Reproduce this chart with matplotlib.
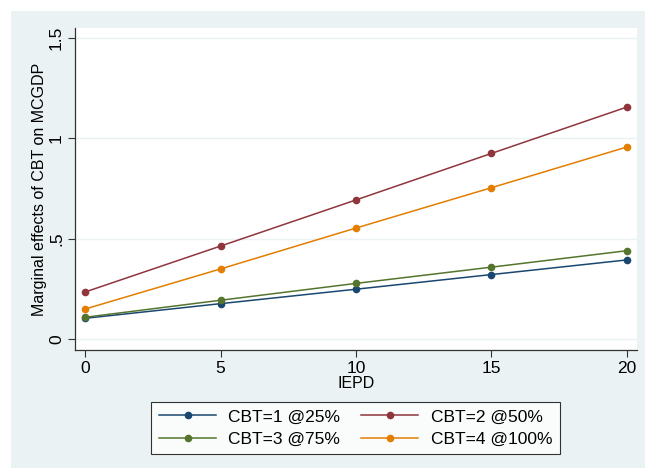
import matplotlib
matplotlib.use("Agg")
from matplotlib import pyplot as plt
from matplotlib.patches import Rectangle

plt.rcParams["font.family"] = ["Liberation Sans", "DejaVu Sans"]

iepd = [0, 5, 10, 15, 20]
cbt1 = [0.103, 0.176, 0.248, 0.321, 0.394]
cbt2 = [0.234, 0.463, 0.693, 0.925, 1.156]
cbt3 = [0.108, 0.193, 0.277, 0.358, 0.440]
cbt4 = [0.149, 0.349, 0.553, 0.754, 0.957]

labels = ["CBT=1 @25%", "CBT=2 @50%", "CBT=3 @75%", "CBT=4 @100%"]
colors = ["#1a476f", "#90353b", "#55752f", "#e37e00"]
series = [cbt1, cbt2, cbt3, cbt4]

BG = "#eaf2f3"

fig = plt.figure(figsize=(6.45, 4.68), dpi=100)
fig.patch.set_facecolor("white")
# stata-style outer region, offset from top-left
fig.patches.append(Rectangle((11 / 645, 0), 1, 1 - 11 / 468,
                             transform=fig.transFigure, facecolor=BG,
                             edgecolor="none", zorder=-10))

ax = fig.add_axes([75 / 645, 1 - 350 / 468, 562 / 645, 322 / 468])
ax.set_facecolor("white")

handles = []
for ys, c, lab in zip(series, colors, labels):
    h, = ax.plot(iepd, ys, color=c, lw=1.1, marker="o", ms=5.5,
                 markeredgewidth=0, label=lab, zorder=3)
    handles.append(h)

ax.set_xlim(-0.37, 20.37)
ax.set_ylim(-0.055, 1.55)
ax.set_xticks([0, 5, 10, 15, 20])
ax.set_yticks([0, 0.5, 1, 1.5])
ax.set_yticklabels(["0", ".5", "1", "1.5"], rotation=90, va="center")
ax.grid(axis="y", color=BG, lw=1.0, zorder=0)
ax.tick_params(axis="both", labelsize=12.5, length=5, width=0.8,
               color="#333333", pad=3)

for s in ("top", "right"):
    ax.spines[s].set_visible(False)
for s in ("left", "bottom"):
    ax.spines[s].set_linewidth(0.9)
    ax.spines[s].set_color("#333333")

ax.set_xlabel("IEPD", fontsize=11.5, labelpad=0)
ax.set_ylabel("Marginal effects of CBT on MCGDP", fontsize=11.5, labelpad=1)

# legend fills column-wise, so reorder to get rows 1|2 and 3|4
order = [0, 2, 1, 3]
leg = fig.legend([handles[i] for i in order], [labels[i] for i in order],
                 loc="center", ncol=2,
                 bbox_to_anchor=(355.5 / 645, 1 - 428 / 468),
                 fontsize=12.5, frameon=True, fancybox=False,
                 handlelength=3.3, columnspacing=1.2, labelspacing=0.4,
                 borderpad=0.45, handletextpad=0.7)
leg.get_frame().set_edgecolor("black")
leg.get_frame().set_linewidth(0.8)
leg.get_frame().set_facecolor("white")

fig.savefig("out.png", dpi=100, facecolor=fig.get_facecolor())
